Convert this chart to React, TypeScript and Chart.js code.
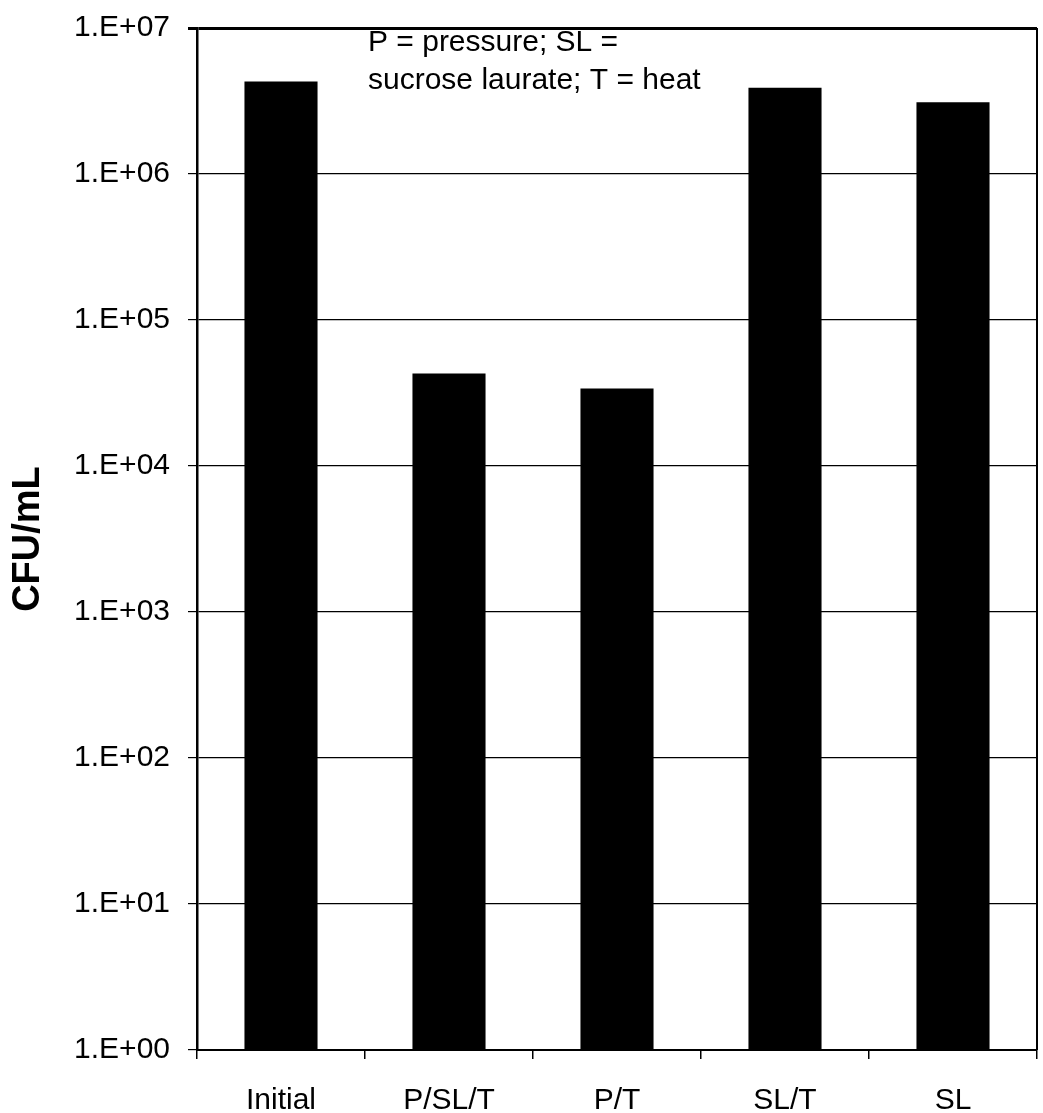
import React, { useEffect, useRef } from "react";
import { Chart, registerables } from "chart.js";

Chart.register(...registerables);

const categories = ["Initial", "P/SL/T", "P/T", "SL/T", "SL"];
const cfuValues = [4.3e6, 4.3e4, 3.4e4, 3.9e6, 3.1e6];
const yTickValues = [1, 10, 100, 1e3, 1e4, 1e5, 1e6, 1e7];
const yTitle = "CFU/mL";
const noteLines = ["P = pressure; SL =", "sucrose laurate; T = heat"];

const FONT = "'Liberation Sans', Arial, sans-serif";

function fmtTick(v: number): string {
  const e = Math.round(Math.log10(v));
  return "1.E+" + (e < 10 ? "0" + e : String(e));
}

export default function App() {
  const ref = useRef<HTMLCanvasElement | null>(null);

  useEffect(() => {
    const canvas = ref.current;
    if (!canvas) return;

    const notePlugin = {
      id: "notePlugin",
      afterDraw(chart: any) {
        const { ctx, chartArea } = chart;
        ctx.save();
        // right border
        ctx.strokeStyle = "#000";
        ctx.lineWidth = 2;
        ctx.beginPath();
        ctx.moveTo(chartArea.right, chartArea.top);
        ctx.lineTo(chartArea.right, chartArea.bottom);
        ctx.stroke();
        // annotation
        ctx.fillStyle = "#000";
        ctx.font = "30px " + FONT;
        ctx.textAlign = "left";
        ctx.textBaseline = "alphabetic";
        noteLines.forEach((line, i) => {
          ctx.fillText(line, 368, 51 + i * 38);
        });
        ctx.restore();
      },
    };

    const chart = new Chart(canvas, {
      type: "bar",
      data: {
        labels: categories,
        datasets: [
          {
            data: cfuValues,
            backgroundColor: "#000",
            borderWidth: 0,
            barPercentage: 0.435,
            categoryPercentage: 1,
          },
        ],
      },
      options: {
        animation: false,
        responsive: false,
        maintainAspectRatio: false,
        devicePixelRatio: 1,
        layout: { padding: { top: 28, right: 6, left: 0, bottom: 0 } },
        plugins: {
          legend: { display: false },
          tooltip: { enabled: false },
        },
        scales: {
          x: {
            offset: true,
            grid: {
              offset: true,
              drawOnChartArea: false,
              drawTicks: true,
              tickLength: 9,
              color: "#000",
              lineWidth: 1.5,
            },
            border: { display: true, color: "#000", width: 2 },
            ticks: {
              color: "#000",
              font: { family: FONT, size: 30 },
              padding: 24,
              maxRotation: 0,
              autoSkip: false,
            },
            afterFit(scale: any) {
              scale.height = 63;
              scale.paddingLeft = 0;
              scale.paddingRight = 0;
            },
          },
          y: {
            type: "logarithmic",
            min: 1,
            max: 1e7,
            grid: {
              color: "#000",
              lineWidth: (ctx: any) =>
                ctx.tick && ctx.tick.value === 1e7 ? 3 : 1.2,
              tickLength: 9,
              drawTicks: true,
            },
            border: { display: true, color: "#000", width: 2.5 },
            ticks: {
              color: "#000",
              font: { family: FONT, size: 30 },
              padding: 18,
              callback: (v: any) => fmtTick(Number(v)),
            },
            afterBuildTicks(scale: any) {
              scale.ticks = yTickValues.map((v) => ({ value: v, major: true }));
            },
            afterFit(scale: any) {
              scale.width = 197;
              scale.paddingTop = 0;
              scale.paddingBottom = 0;
            },
            title: {
              display: true,
              text: yTitle,
              color: "#000",
              font: { family: FONT, size: 38, weight: "bold" },
              padding: { top: 6, bottom: 0 },
            },
          },
        },
      },
      plugins: [notePlugin],
    });

    return () => chart.destroy();
  }, []);

  return (
    <div style={{ position: "absolute", left: 0, top: 0, width: 1043, height: 1113, background: "#fff" }}>
      <canvas ref={ref} width={1043} height={1113} style={{ width: 1043, height: 1113, display: "block" }} />
    </div>
  );
}
